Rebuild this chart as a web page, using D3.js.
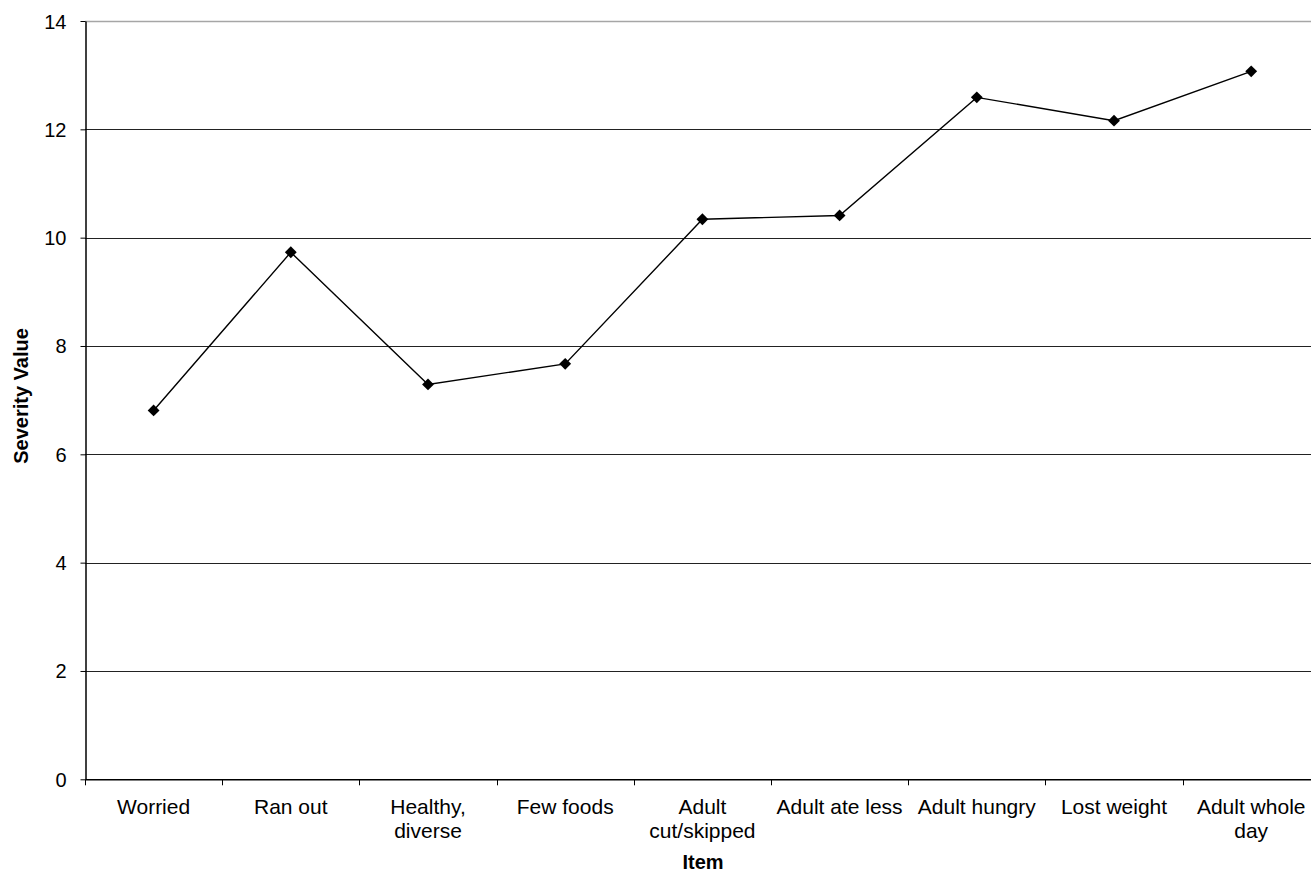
<!DOCTYPE html>
<html>
<head>
<meta charset="utf-8">
<script src="https://cdn.jsdelivr.net/npm/d3@7"></script>
<style>
  html, body { margin: 0; padding: 0; background: #fff; }
  svg { display: block; }
  text { font-family: "Liberation Sans", Arial, Helvetica, sans-serif; fill: #000; }
</style>
</head>
<body>
<svg id="chart" width="1311" height="874"></svg>
<script>
const categories = ["Worried", "Ran out", "Healthy, diverse", "Few foods", "Adult cut/skipped",
                    "Adult ate less", "Adult hungry", "Lost weight", "Adult whole day"];
const categoryLines = [["Worried"], ["Ran out"], ["Healthy,", "diverse"], ["Few foods"],
                       ["Adult", "cut/skipped"], ["Adult ate less"], ["Adult hungry"],
                       ["Lost weight"], ["Adult whole", "day"]];
const severity = [6.81, 9.73, 7.29, 7.67, 10.34, 10.41, 12.59, 12.16, 13.07];
const yTicks = [0, 2, 4, 6, 8, 10, 12, 14];
const yTitle = "Severity Value";
const xTitle = "Item";

(function () {
const svg = d3.select("#chart");
const mLeft = 85, mTop = 21, mBottom = 779.3, catW = 137.2;
const mRight = mLeft + catW * categories.length;

const x = d3.scaleBand().domain(categories).range([mLeft, mRight]).padding(0);
const y = d3.scaleLinear().domain([0, 14]).range([mBottom, mTop]);

// gridlines
svg.append("g").selectAll("line").data(yTicks.filter(d => d > 0)).join("line")
  .attr("x1", mLeft).attr("x2", mRight)
  .attr("y1", d => Math.round(y(d)) + 0.5).attr("y2", d => Math.round(y(d)) + 0.5)
  .attr("stroke", d => d === 14 ? "#a6a6a6" : "#222")
  .attr("stroke-width", d => d === 14 ? 1.5 : 1);

// y axis
const yAxis = svg.append("g").attr("transform", `translate(${mLeft + 0.5},0)`)
  .call(d3.axisLeft(y).tickValues(yTicks).tickSize(5).tickPadding(14).tickSizeOuter(0));
yAxis.select(".domain").attr("stroke", "#000").attr("stroke-width", 1.5);
yAxis.selectAll(".tick line").attr("stroke", "#000");
yAxis.selectAll(".tick text").style("font-size", "20px").attr("dy", "0.35em");

// x axis
const xAxis = svg.append("g").attr("transform", `translate(0,${mBottom})`)
  .call(d3.axisBottom(x).tickSize(0).tickFormat(""));
xAxis.select(".domain").attr("stroke", "#000").attr("stroke-width", 1.5);
xAxis.selectAll(".tick").remove();
xAxis.selectAll(".cat-tick").data(categories).join("line")
  .attr("class", "cat-tick")
  .attr("x1", d => Math.round(x(d)) + 0.5).attr("x2", d => Math.round(x(d)) + 0.5)
  .attr("y1", 0).attr("y2", 6).attr("stroke", "#000");

// category labels
const lbl = svg.append("g").selectAll("text").data(categories).join("text")
  .attr("x", d => x(d) + x.bandwidth() / 2)
  .attr("y", 814)
  .attr("text-anchor", "middle")
  .style("font-size", "21px");
lbl.each(function(d, i) {
  const t = d3.select(this);
  categoryLines[i].forEach((line, j) => {
    t.append("tspan").attr("x", x(d) + x.bandwidth() / 2).attr("dy", j === 0 ? 0 : 24).text(line);
  });
});

// axis titles
svg.append("text").attr("x", 703).attr("y", 869).attr("text-anchor", "middle")
  .style("font-size", "20px").style("font-weight", "bold").text(xTitle);
svg.append("text").attr("transform", `translate(28,${396}) rotate(-90)`)
  .attr("text-anchor", "middle").style("font-size", "20px").style("font-weight", "bold").text(yTitle);

// line
const line = d3.line().x((d, i) => x(categories[i]) + x.bandwidth() / 2).y(d => y(d));
svg.append("path").datum(severity).attr("d", line)
  .attr("fill", "none").attr("stroke", "#000").attr("stroke-width", 1.4);

// markers
svg.append("g").selectAll("path").data(severity).join("path")
  .attr("d", d3.symbol().type(d3.symbolSquare).size(70))
  .attr("transform", (d, i) => `translate(${x(categories[i]) + x.bandwidth() / 2},${y(d)}) rotate(45)`)
  .attr("fill", "#000");
})();
</script>
</body>
</html>
